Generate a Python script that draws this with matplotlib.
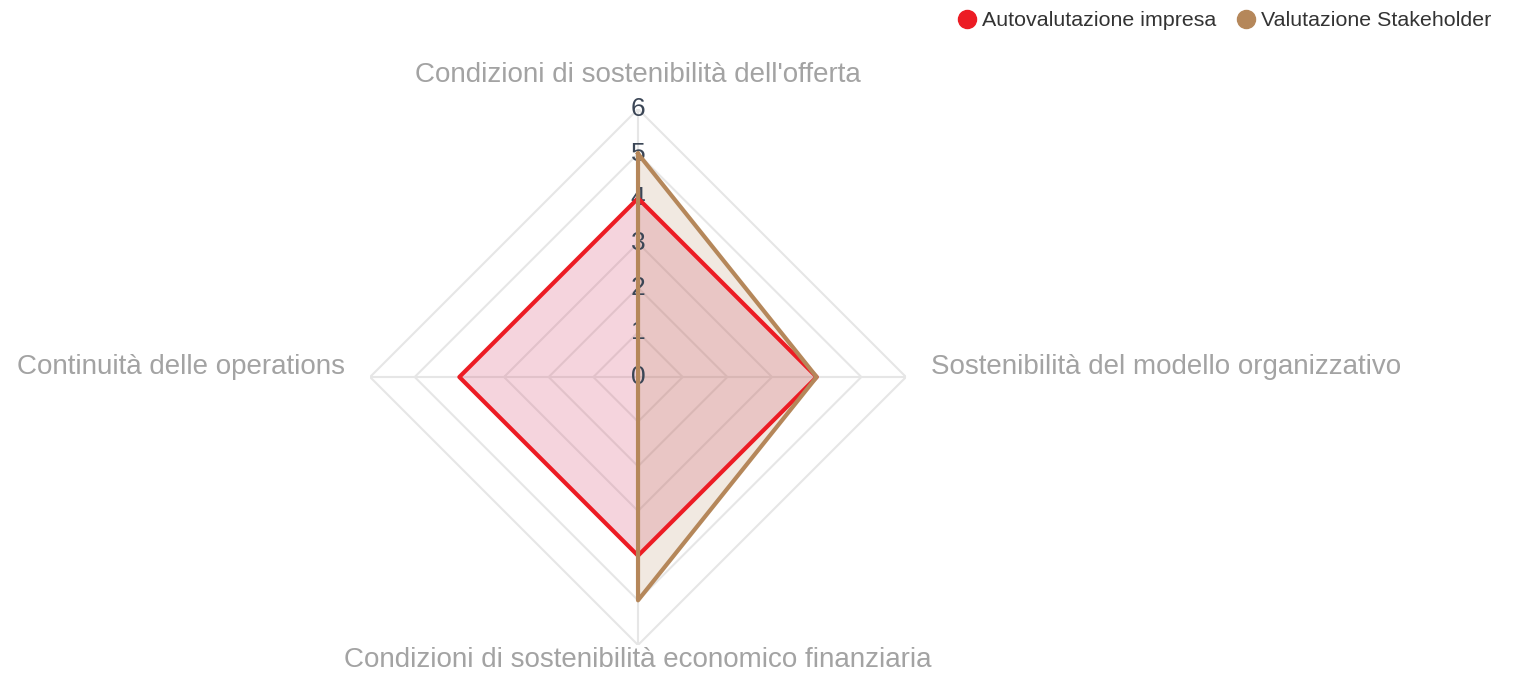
import numpy as np
import matplotlib
matplotlib.use("Agg")
from matplotlib import pyplot as plt
from matplotlib.lines import Line2D

categories = ["Condizioni di sostenibilità dell'offerta",
              "Sostenibilità del modello organizzativo",
              "Condizioni di sostenibilità economico finanziaria",
              "Continuità delle operations"]
autovalutazione = [4, 4, 4, 4]
stakeholder = [5, 4, 5, 0]
levels = [1, 2, 3, 4, 5, 6]
tick_labels = ["0", "1", "2", "3", "4", "5", "6"]

red = "#ec1c24"
brown = "#b5875a"
plt.rcParams['font.family'] = ['Liberation Sans', 'DejaVu Sans']

fig = plt.figure(figsize=(15.22, 6.73), dpi=100)
ax = fig.add_axes([0.2431, 0.0416, 0.3522, 0.7964], projection='polar')
ax.set_theta_zero_location('N')
ax.set_theta_direction(-1)
ax.set_ylim(0, 6)
ax.grid(False)
ax.spines['polar'].set_visible(False)
ax.set_xticks([])
ax.set_yticks([])
ax.patch.set_alpha(0)

theta = np.linspace(0, 2 * np.pi, len(categories), endpoint=False)
closed = np.append(theta, theta[0])

# polygon grid + spokes
for lv in levels:
    ax.plot(closed, [lv] * len(closed), color="#e6e6e6", lw=1.5, zorder=1)
for t in theta:
    ax.plot([t, t], [0, levels[-1]], color="#e6e6e6", lw=1.5, zorder=1)

def close(v):
    return list(v) + [v[0]]

ax.fill(closed, close(autovalutazione), color="#d9577a", alpha=0.25, zorder=2, lw=0)
ax.fill(closed, close(stakeholder), color=brown, alpha=0.18, zorder=2, lw=0)

for i, lab in enumerate(tick_labels):
    ax.text(0, i, lab, ha='center', va='center', fontsize=19, color="#3b4656", zorder=3)

ax.plot(closed, close(autovalutazione), color=red, lw=3, zorder=4)
ax.plot(closed, close(stakeholder), color=brown, lw=3, zorder=5)

offsets = [(0, 34, 'center'), (25, 10, 'left'), (0, -15, 'center'), (-25, 10, 'right')]
for t, lab, (dx, dy, ha) in zip(theta, categories, offsets):
    ax.annotate(lab, xy=(t, levels[-1]), xytext=(dx, dy), textcoords='offset pixels',
                ha=ha, va='center', fontsize=20, color="#a3a3a3", annotation_clip=False)

handles = [Line2D([], [], marker='o', ls='', color=red, markersize=13),
           Line2D([], [], marker='o', ls='', color=brown, markersize=13)]
fig.legend(handles, ["Autovalutazione impresa", "Valutazione Stakeholder"],
           loc='upper right', bbox_to_anchor=(0.9925, 1.012), ncol=2, frameon=False,
           fontsize=15.4, handletextpad=-0.28, columnspacing=0.38, labelcolor="#333333")

fig.savefig("out.png", dpi=100)
